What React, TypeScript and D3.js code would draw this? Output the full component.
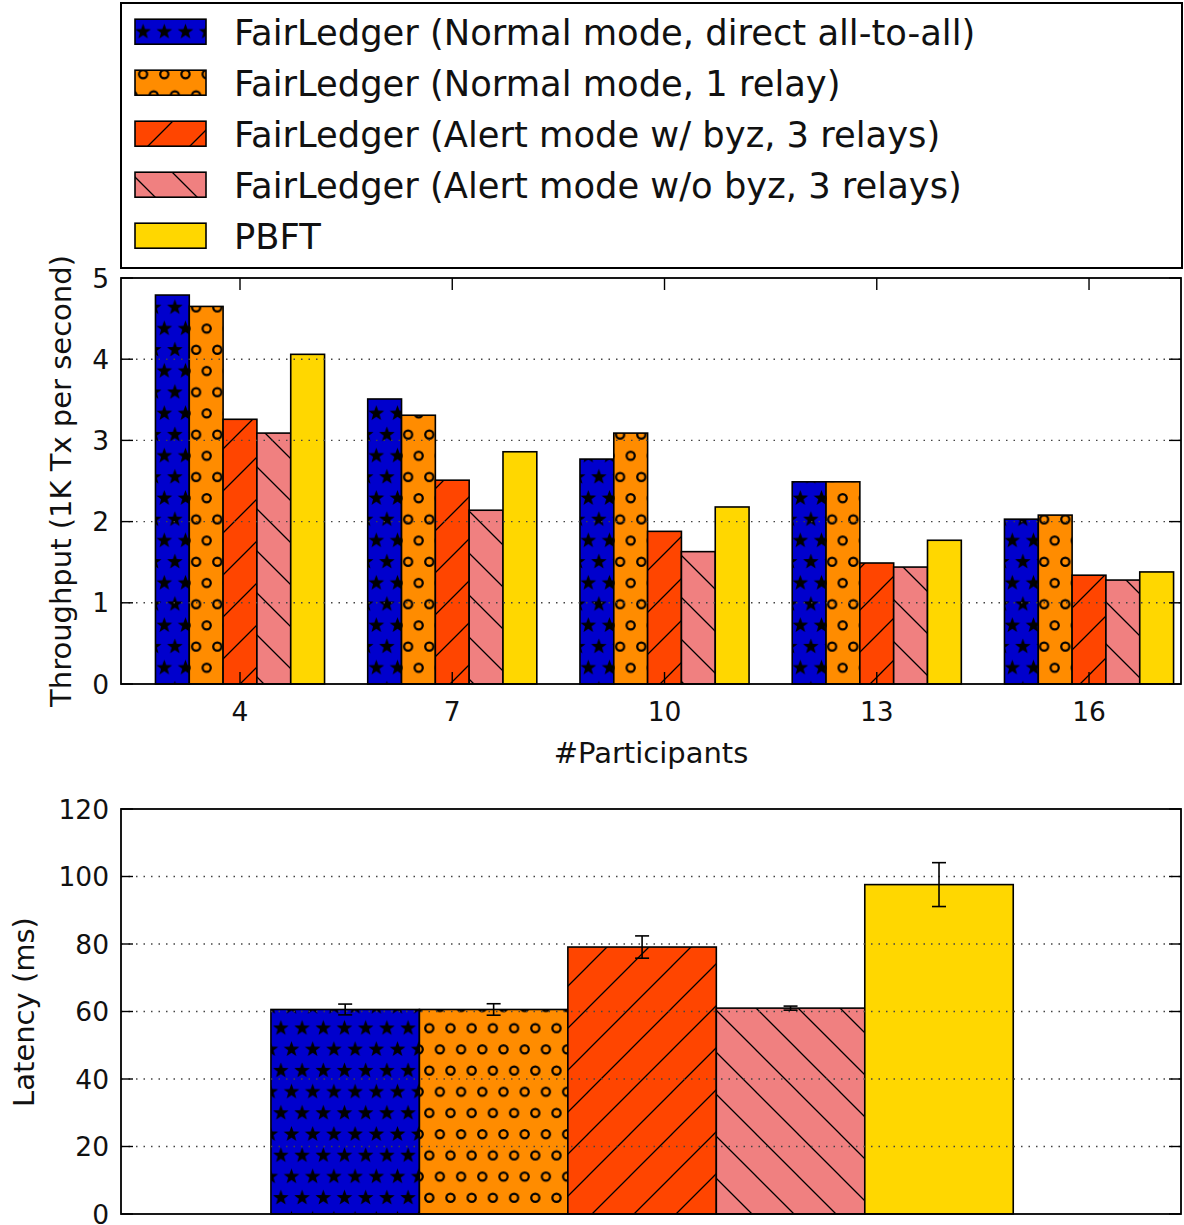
import * as d3 from 'd3';

const groups = [4, 7, 10, 13, 16];
const seriesNames = [
  'FairLedger (Normal mode, direct all-to-all)',
  'FairLedger (Normal mode, 1 relay)',
  'FairLedger (Alert mode w/ byz, 3 relays)',
  'FairLedger (Alert mode w/o byz, 3 relays)',
  'PBFT',
];
const seriesColors = ['#0000CD', '#FF8C00', '#FF4500', '#F08080', '#FFD700'];
const seriesHatch = ['stars', 'rings', 'slash', 'backslash', null];

const normalDirect = [4.79, 3.51, 2.77, 2.49, 2.03];
const normalRelay = [4.65, 3.31, 3.09, 2.49, 2.08];
const alertByz = [3.26, 2.51, 1.88, 1.49, 1.34];
const alertNoByz = [3.09, 2.14, 1.63, 1.44, 1.28];
const pbft = [4.06, 2.86, 2.18, 1.77, 1.38];
const throughput = [normalDirect, normalRelay, alertByz, alertNoByz, pbft];
const throughputTicks = [0, 1, 2, 3, 4, 5];

const latency = [60.6, 60.6, 79.1, 61.0, 97.6];
const latencyErr = [1.6, 1.7, 3.3, 0.6, 6.5];
const latencyTicks = [0, 20, 40, 60, 80, 100, 120];

const FONT = 'DejaVu Sans, Verdana, sans-serif';
const W = 1184;
const H = 1225;
const L = 121;
const R = 1181;
const TICK = 12;

// top panel scales
const xTop = d3.scaleLinear().domain([2.318, 17.3]).range([L, R]);
const yTop = d3.scaleLinear().domain([0, 5]).range([684, 278]);
const barW = 0.478;

// bottom panel scales
const xBot = d3.scaleLinear().domain([-1.01, 6.13]).range([L, R]);
const yBot = d3.scaleLinear().domain([0, 120]).range([1214, 809]);

function starPath(cx: number, cy: number, ro: number, ri: number) {
  const pts: string[] = [];
  for (let k = 0; k < 10; k++) {
    const r = k % 2 === 0 ? ro : ri;
    const a = -Math.PI / 2 + (k * Math.PI) / 5;
    pts.push(`${(cx + r * Math.cos(a)).toFixed(2)},${(cy + r * Math.sin(a)).toFixed(2)}`);
  }
  return `M${pts.join('L')}Z`;
}

function HatchedRect(props: { x: number; y: number; w: number; h: number; i: number }) {
  const { x, y, w, h, i } = props;
  const hatch = seriesHatch[i];
  return (
    <g>
      <rect x={x} y={y} width={w} height={h} fill={seriesColors[i]} />
      {hatch && <rect x={x} y={y} width={w} height={h} fill={`url(#${hatch})`} />}
      <rect x={x} y={y} width={w} height={h} fill="none" stroke="#000" strokeWidth={1.6} />
    </g>
  );
}

function Frame(props: {
  x: d3.ScaleLinear<number, number>;
  y: d3.ScaleLinear<number, number>;
  yTicks: number[];
  xTicks: number[];
}) {
  const { x, y, yTicks, xTicks } = props;
  const [x0, x1] = x.range();
  const [y0, y1] = y.range();
  return (
    <g>
      {yTicks
        .filter((t) => t !== y.domain()[0] && t !== y.domain()[1])
        .map((t) => (
          <line
            key={`g${t}`}
            x1={x0}
            x2={x1}
            y1={y(t)}
            y2={y(t)}
            stroke="#444"
            strokeWidth={1.4}
            strokeDasharray="1.5,6"
          />
        ))}
      {yTicks.map((t) => (
        <g key={`yt${t}`}>
          <line x1={x0} x2={x0 + TICK} y1={y(t)} y2={y(t)} stroke="#000" strokeWidth={1.4} />
          <line x1={x1} x2={x1 - TICK} y1={y(t)} y2={y(t)} stroke="#000" strokeWidth={1.4} />
          <text
            x={x0 - 12}
            y={y(t)}
            textAnchor="end"
            dominantBaseline="central"
            fontSize={26.5}
            fontFamily={FONT}
            fill="#111"
          >
            {t}
          </text>
        </g>
      ))}
      {xTicks.map((t) => (
        <g key={`xt${t}`}>
          <line x1={x(t)} x2={x(t)} y1={y0} y2={y0 - TICK} stroke="#000" strokeWidth={1.4} />
          <line x1={x(t)} x2={x(t)} y1={y1} y2={y1 + TICK} stroke="#000" strokeWidth={1.4} />
          <text x={x(t)} y={721} textAnchor="middle" fontSize={26.5} fontFamily={FONT} fill="#111">
            {t}
          </text>
        </g>
      ))}
      <rect x={x0} y={y1} width={x1 - x0} height={y0 - y1} fill="none" stroke="#000" strokeWidth={1.8} />
    </g>
  );
}

export default function App() {
  const legendRowY = (i: number) => 31.7 + i * 51;
  return (
    <svg
      width={W}
      height={H}
      viewBox={`0 0 ${W} ${H}`}
      style={{ position: 'absolute', left: 0, top: 0, background: '#fff' }}
    >
      <defs>
        <pattern id="stars" patternUnits="userSpaceOnUse" width={21.2} height={42.4}>
          <path d={starPath(5.3, 10.6, 8.2, 3.4)} fill="#000" />
          <path d={starPath(15.9, 31.8, 8.2, 3.4)} fill="#000" />
          <path d={starPath(26.5, 10.6, 8.2, 3.4)} fill="#000" />
          <path d={starPath(-5.3, 31.8, 8.2, 3.4)} fill="#000" />
          <path d={starPath(5.3, 53, 8.2, 3.4)} fill="#000" />
          <path d={starPath(26.5, 53, 8.2, 3.4)} fill="#000" />
        </pattern>
        <pattern id="rings" patternUnits="userSpaceOnUse" width={21.2} height={42.4}>
          <circle cx={5.3} cy={10.6} r={4.1} fill="none" stroke="#000" strokeWidth={2.2} />
          <circle cx={15.9} cy={31.8} r={4.1} fill="none" stroke="#000" strokeWidth={2.2} />
        </pattern>
        <pattern id="slash" patternUnits="userSpaceOnUse" width={42} height={42}>
          <path
            d="M0,42L42,0M-10.5,10.5L10.5,-10.5M31.5,52.5L52.5,31.5"
            stroke="#000"
            strokeWidth={1.3}
          />
        </pattern>
        <pattern id="backslash" patternUnits="userSpaceOnUse" width={42} height={42}>
          <path
            d="M0,0L42,42M-10.5,31.5L10.5,52.5M31.5,-10.5L52.5,10.5"
            stroke="#000"
            strokeWidth={1.3}
          />
        </pattern>
      </defs>

      {/* legend */}
      <rect x={121} y={3} width={1061} height={265} fill="#fff" stroke="#000" strokeWidth={2} />
      {seriesNames.map((name, i) => (
        <g key={name}>
          <HatchedRect x={135} y={legendRowY(i) - 12.5} w={71} h={25} i={i} />
          <text x={234} y={legendRowY(i) + 13} fontSize={35.3} fontFamily={FONT} fill="#111">
            {name}
          </text>
        </g>
      ))}

      {/* throughput panel */}
      <rect x={L} y={278} width={R - L} height={406} fill="#fff" />
      {throughput.map((vals, i) =>
        vals.map((v, j) => {
          const xs = groups[j] + (i - 2.5) * barW;
          return (
            <HatchedRect
              key={`t${i}-${j}`}
              x={xTop(xs)}
              y={yTop(v)}
              w={xTop(xs + barW) - xTop(xs)}
              h={yTop(0) - yTop(v)}
              i={i}
            />
          );
        }),
      )}
      <Frame x={xTop} y={yTop} yTicks={throughputTicks} xTicks={groups} />
      <text
        transform="translate(71,481) rotate(-90)"
        textAnchor="middle"
        fontSize={29}
        fontFamily={FONT}
        fill="#111"
      >
        Throughput (1K Tx per second)
      </text>
      <text x={651} y={763} textAnchor="middle" fontSize={29} fontFamily={FONT} fill="#111">
        #Participants
      </text>

      {/* latency panel */}
      {latency.map((v, i) => (
        <HatchedRect
          key={`l${i}`}
          x={xBot(i)}
          y={yBot(v)}
          w={xBot(i + 1) - xBot(i)}
          h={yBot(0) - yBot(v)}
          i={i}
        />
      ))}
      <Frame x={xBot} y={yBot} yTicks={latencyTicks} xTicks={[]} />
      {latency.map((v, i) => {
        const cx = xBot(i + 0.5);
        const top = yBot(v + latencyErr[i]);
        const bot = yBot(v - latencyErr[i]);
        return (
          <g key={`e${i}`} stroke="#000" strokeWidth={1.6}>
            <line x1={cx} x2={cx} y1={top} y2={bot} />
            <line x1={cx - 7} x2={cx + 7} y1={top} y2={top} />
            <line x1={cx - 7} x2={cx + 7} y1={bot} y2={bot} />
          </g>
        );
      })}
      <text
        transform="translate(34,1012) rotate(-90)"
        textAnchor="middle"
        fontSize={29}
        fontFamily={FONT}
        fill="#111"
      >
        Latency (ms)
      </text>
    </svg>
  );
}
